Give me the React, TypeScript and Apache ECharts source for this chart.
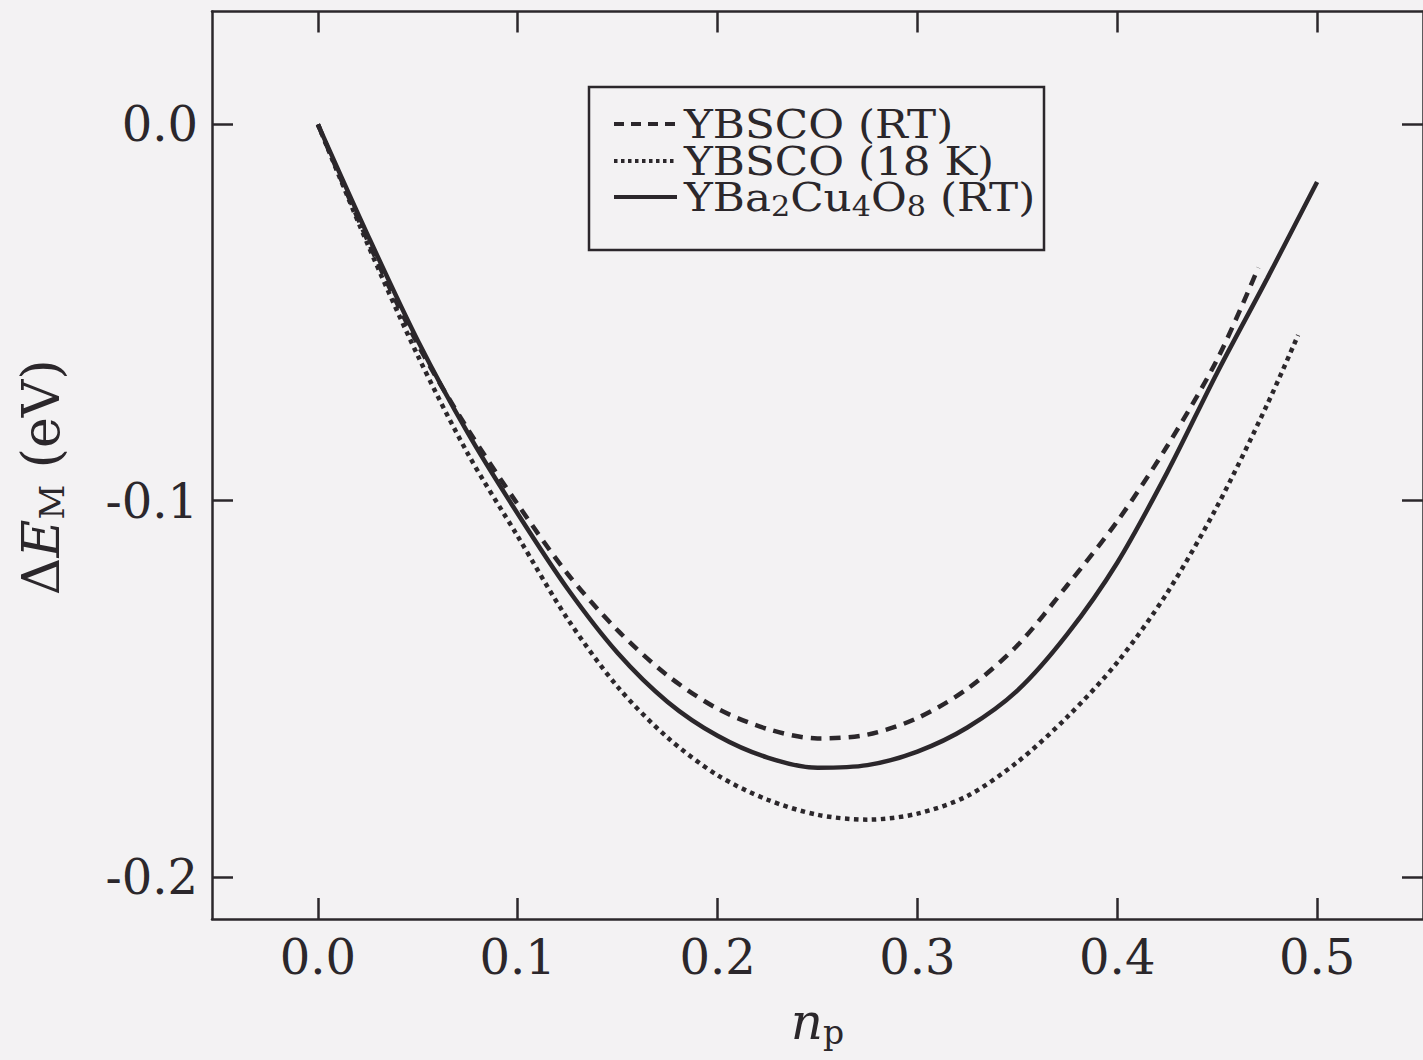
import React, { useEffect, useRef } from "react";
import * as echarts from "echarts";

// ---- data ----
const xTicks = [0, 0.1, 0.2, 0.3, 0.4, 0.5];
const yTicks = [-0.2, -0.1, 0];

const seriesNames = ["YBSCO (RT)", "YBSCO (18 K)", "YBa2Cu4O8 (RT)"];
const legendLabels = ["YBSCO (RT)", "YBSCO (18 K)", "YBa{s|2}Cu{s|4}O{s|8} (RT)"];

// YBSCO (RT) – dashed
const npRT = [0, 0.025, 0.05, 0.075, 0.1, 0.125, 0.15, 0.175, 0.2, 0.225, 0.25, 0.275, 0.3, 0.325, 0.35, 0.375, 0.4, 0.425, 0.45, 0.4706];
const emRT = [0, -0.031, -0.0585, -0.081, -0.101, -0.1195, -0.1345, -0.1465, -0.1553, -0.1607, -0.1632, -0.1622, -0.1578, -0.15, -0.1385, -0.1225, -0.1055, -0.0855, -0.0625, -0.0381];

// YBSCO (18 K) – dotted
const np18K = [0, 0.025, 0.05, 0.075, 0.1, 0.125, 0.15, 0.175, 0.2, 0.225, 0.25, 0.275, 0.3, 0.325, 0.35, 0.375, 0.4, 0.425, 0.45, 0.475, 0.4905];
const em18K = [0, -0.032, -0.0615, -0.0875, -0.1095, -0.1315, -0.1495, -0.163, -0.173, -0.1795, -0.1835, -0.1848, -0.1832, -0.1785, -0.1695, -0.1575, -0.143, -0.1245, -0.1015, -0.0745, -0.056];

// YBa2Cu4O8 (RT) – solid
const np124 = [0, 0.025, 0.05, 0.075, 0.1, 0.125, 0.15, 0.175, 0.2, 0.225, 0.25, 0.275, 0.3, 0.325, 0.35, 0.375, 0.4, 0.425, 0.45, 0.475, 0.5];
const em124 = [0, -0.0295, -0.0575, -0.082, -0.1035, -0.1235, -0.1405, -0.1535, -0.1625, -0.1683, -0.171, -0.1703, -0.1667, -0.1603, -0.1505, -0.1355, -0.1165, -0.0925, -0.066, -0.041, -0.0153];

const INK = "#2b272b";
const BG = "#f3f2f3";
const FONT = "DejaVu Serif";

const zip = (xs: number[], ys: number[]) => xs.map((x, i) => [x, ys[i]]);

const lineTypes: any[] = [[11, 8], [4.5, 4.5], "solid"];
const legendDash: any[] = [[10, 7], [3.5, 3.5], null];

export default function App() {
  const ref = useRef<HTMLDivElement>(null);
  useEffect(() => {
    if (!ref.current) return;
    const chart = echarts.init(ref.current, undefined, { renderer: "svg" });
    const axisCommon = {
      type: "value" as const,
      axisLine: { show: true, onZero: false, lineStyle: { color: INK, width: 2.5 } },
      splitLine: { show: false },
    };
    const tick = { show: true, inside: true, length: 21, lineStyle: { color: INK, width: 2.5 } };

    // legend drawn as graphic elements (box, samples, labels)
    const legX = 589, legY = 87, legW = 455, legH = 163;
    const rowY = [124, 161, 197];
    const legendEls: any[] = [
      {
        type: "rect",
        shape: { x: legX, y: legY, width: legW, height: legH },
        style: { fill: BG, stroke: INK, lineWidth: 2.5 },
        z: 100,
      },
    ];
    seriesNames.forEach((_, i) => {
      legendEls.push({
        type: "line",
        shape: { x1: 614, y1: rowY[i], x2: 677, y2: rowY[i] },
        style: { stroke: INK, lineWidth: 4, lineDash: legendDash[i] },
        z: 101,
      });
      legendEls.push({
        type: "text",
        x: 684,
        y: rowY[i] + 1,
        scaleX: 1.12,
        z: 101,
        style: {
          text: legendLabels[i],
          fontFamily: FONT,
          fontSize: 39,
          fill: INK,
          verticalAlign: "middle",
          align: "left",
          rich: {
            s: { fontFamily: FONT, fontSize: 27, fill: INK, lineHeight: 27, padding: [17, 0, 0, 0] },
          },
        },
      });
    });

    chart.setOption({
      animation: false,
      backgroundColor: BG,
      grid: { left: 212, right: -5, top: 11.5, bottom: 141 },
      graphic: legendEls,
      xAxis: [
        {
          ...axisCommon,
          position: "bottom",
          min: -0.053,
          max: 0.553,
          axisTick: { ...tick, customValues: xTicks },
          axisLabel: {
            show: true,
            customValues: xTicks,
            formatter: (v: number) => v.toFixed(1),
            fontFamily: FONT,
            fontSize: 48,
            color: INK,
            margin: 14,
          },
          name: "{i|n}{s|p}",
          nameLocation: "middle",
          nameGap: 78,
          nameTextStyle: {
            rich: {
              i: { fontFamily: FONT, fontStyle: "italic", fontSize: 50, color: INK, lineHeight: 50 },
              s: { fontFamily: FONT, fontSize: 33, color: INK, lineHeight: 33, padding: [20, 0, 0, 0] },
            },
          },
        },
        {
          ...axisCommon,
          position: "top",
          min: -0.053,
          max: 0.553,
          axisTick: { ...tick, customValues: xTicks },
          axisLabel: { show: false },
        },
      ],
      yAxis: [
        {
          ...axisCommon,
          position: "left",
          min: -0.2112,
          max: 0.03,
          axisTick: { ...tick, customValues: yTicks },
          axisLabel: {
            show: true,
            customValues: yTicks,
            formatter: (v: number) => (Math.abs(v) < 1e-9 ? "0.0" : v.toFixed(1)),
            fontFamily: FONT,
            fontSize: 48,
            color: INK,
            margin: 14,
          },
          name: "{a|Δ}{i|E}{s|M}{a| (eV)}",
          nameLocation: "middle",
          nameRotate: 90,
          nameGap: 145,
          nameTextStyle: {
            padding: [0, 24, 0, 0],
            rich: {
              a: { fontFamily: FONT, fontSize: 52, color: INK, lineHeight: 52 },
              i: { fontFamily: FONT, fontStyle: "italic", fontSize: 52, color: INK, lineHeight: 52 },
              s: { fontFamily: FONT, fontSize: 34, color: INK, lineHeight: 34, padding: [21, 0, 0, 0] },
            },
          },
        },
        {
          ...axisCommon,
          position: "right",
          min: -0.2112,
          max: 0.03,
          axisTick: { ...tick, customValues: yTicks },
          axisLabel: { show: false },
        },
      ],
      series: [
        { xs: npRT, ys: emRT },
        { xs: np18K, ys: em18K },
        { xs: np124, ys: em124 },
      ].map((d, i) => ({
        name: seriesNames[i],
        type: "line",
        data: zip(d.xs, d.ys),
        smooth: 0.3,
        symbol: "none",
        color: INK,
        lineStyle: { color: INK, width: 4.5, type: lineTypes[i] },
      })),
    });
    return () => chart.dispose();
  }, []);
  return (
    <div
      ref={ref}
      style={{ position: "absolute", left: 0, top: 0, width: 1423, height: 1060 }}
    />
  );
}
